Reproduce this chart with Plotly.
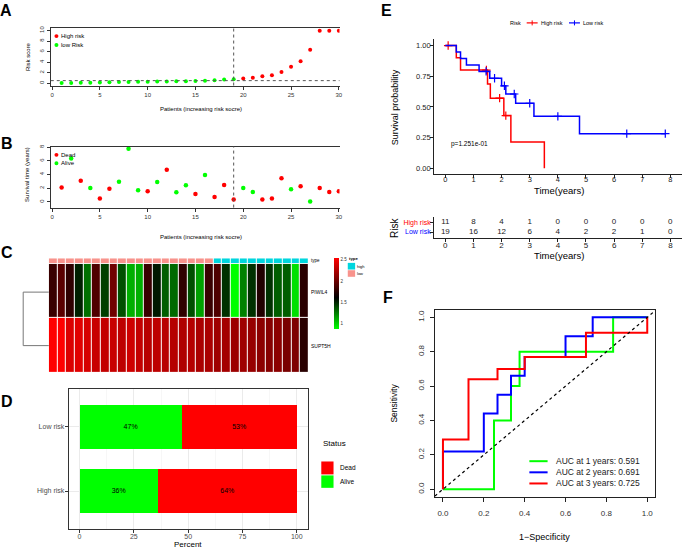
import plotly.graph_objects as go

W, H = 685, 549
def fx(p): return p / W
def fy(p): return 1 - p / H

FONT = "Liberation Sans, Arial, Helvetica, sans-serif"
RED, GREEN, BLUE = "#FF0000", "#00FF00", "#0000FF"

# ---------------- data ----------------
patients = list(range(1, 31))
n_low = 19
risk_score = [0.05, 0.06, 0.08, 0.10, 0.13, 0.18, 0.22, 0.25, 0.28, 0.30,
              0.32, 0.35, 0.38, 0.40, 0.45, 0.48, 0.57, 0.70, 0.75,
              0.92, 1.07, 1.32, 1.50, 2.14, 3.14, 4.15, 6.35, 9.94, 9.94, 9.94]
risk_cutoff = 0.5
surv_time = [2.09, 6.36, 3.10, 2.04, 0.49, 1.94, 2.96, 7.77, 1.70, 1.55,
             2.90, 4.70, 1.40, 2.43, 1.17, 3.93, 0.73, 2.48, 0.34,
             2.04, 1.46, 0.34, 0.49, 3.45, 1.84, 2.28, 0.05, 2.04, 1.46, 1.55]
dead = [1, 0, 1, 0, 1, 1, 0, 0, 0, 1, 0, 1, 0, 0, 1, 0, 1, 1, 1,
        0, 0, 1, 1, 1, 0, 1, 0, 1, 1, 1]

genes = ["PIWIL4", "SUPT5H"]
piwil4 = [1.81, 1.93, 1.77, 1.51, 1.28, 1.89, 1.42, 2.01, 1.37, 1.10,
          1.10, 1.81, 1.53, 1.33, 1.30, 1.77, 1.37, 1.14, 1.81, 1.89,
          1.46, 0.87, 1.23, 1.46, 1.72, 1.46, 1.33, 1.33, 0.96, 1.75]
supt5h = [2.53, 2.53, 2.40, 2.42, 2.38, 2.33, 2.31, 2.33, 2.29, 2.35,
          2.31, 2.27, 2.29, 2.27, 2.26, 2.24, 2.26, 2.22, 2.22, 2.18,
          2.20, 2.17, 2.18, 2.15, 2.11, 2.09, 2.11, 2.04, 2.06, 1.75]
expr_min, expr_max = 0.87, 2.53
type_labels = ["low"] * n_low + ["high"] * (30 - n_low)

status_groups = ["High risk", "Low risk"]
alive_pct = [36, 47]
dead_pct = [64, 53]

km_high_t = [0, 0.39, 0.54, 1.50, 1.60, 2.08, 2.33, 3.52]
km_high_s = [1.0, 0.900, 0.800, 0.686, 0.571, 0.429, 0.214, 0.0]
cens_high_t = [0.10, 1.46, 1.93, 2.15]
cens_high_s = [1.0, 0.800, 0.571, 0.429]
km_low_t = [0, 0.39, 0.54, 0.75, 1.20, 1.58, 2.00, 2.15, 2.50, 3.15, 4.77, 7.82]
km_low_s = [1.0, 0.947, 0.895, 0.842, 0.789, 0.733, 0.672, 0.605, 0.529, 0.423, 0.282, 0.282]
cens_low_t = [1.45, 1.75, 2.10, 2.45, 3.00, 4.00, 6.45, 7.82]
cens_low_s = [0.789, 0.733, 0.672, 0.605, 0.529, 0.423, 0.282, 0.282]
p_value_text = "p=1.251e-01"

table_times = [0, 1, 2, 3, 4, 5, 6, 7, 8]
at_risk_high = [11, 8, 4, 1, 0, 0, 0, 0, 0]
at_risk_low = [19, 16, 12, 6, 4, 2, 2, 1, 0]

roc1_fpr = [0, 0.25, 0.25, 0.333, 0.333, 0.375, 0.375, 0.833, 0.833, 1.0]
roc1_tpr = [0, 0, 0.4, 0.4, 0.6, 0.6, 0.8, 0.8, 1.0, 1.0]
roc2_fpr = [0, 0, 0.2, 0.2, 0.267, 0.267, 0.333, 0.333, 0.4, 0.4, 0.6, 0.6, 0.733, 0.733, 1.0]
roc2_tpr = [0, 0.22, 0.22, 0.44, 0.44, 0.55, 0.55, 0.66, 0.66, 0.77, 0.77, 0.89, 0.89, 1.0, 1.0]
roc3_fpr = [0, 0, 0.125, 0.125, 0.267, 0.267, 0.4, 0.4, 0.7, 0.7, 1.0, 1.0]
roc3_tpr = [0, 0.29, 0.29, 0.64, 0.64, 0.70, 0.70, 0.77, 0.77, 0.91, 0.91, 1.0]
auc_labels = ["AUC at 1 years: 0.591", "AUC at 2 years: 0.691", "AUC at 3 years: 0.725"]
roc_colors = [GREEN, BLUE, RED]

# ---------------- helpers ----------------
annotations, shapes = [], []

def txt(x, y, s, size, color="black", xanchor="center", yanchor="middle", angle=0):
    annotations.append(dict(x=fx(x), y=fy(y), xref="paper", yref="paper", text=s,
                            showarrow=False, textangle=angle, xanchor=xanchor, yanchor=yanchor,
                            borderpad=0, font=dict(size=size, color=color, family=FONT)))

def pline(x0, y0, x1, y1, color="black", width=1, dash="solid"):
    shapes.append(dict(type="line", xref="paper", yref="paper", x0=fx(x0), y0=fy(y0),
                       x1=fx(x1), y1=fy(y1), line=dict(color=color, width=width, dash=dash)))

def prect(x0, y0, x1, y1, color):
    shapes.append(dict(type="rect", xref="paper", yref="paper", x0=fx(x0), y0=fy(y0),
                       x1=fx(x1), y1=fy(y1), fillcolor=color, line=dict(width=0)))

def pdot(x, y, r, color):
    shapes.append(dict(type="circle", xref="paper", yref="paper", x0=fx(x - r), y0=fy(y - r),
                       x1=fx(x + r), y1=fy(y + r), fillcolor=color, line=dict(width=0)))

fig = go.Figure()

# ---------------- A: risk score ----------------
fig.add_trace(go.Scatter(x=patients[:n_low], y=risk_score[:n_low], mode="markers",
                         marker=dict(color=GREEN, size=4), xaxis="x", yaxis="y"))
fig.add_trace(go.Scatter(x=patients[n_low:], y=risk_score[n_low:], mode="markers",
                         marker=dict(color=RED, size=4), xaxis="x", yaxis="y"))
shapes.append(dict(type="line", xref="x", yref="y domain", x0=n_low, x1=n_low, y0=0, y1=1,
                   line=dict(color="#555", width=1, dash="dot")))
shapes.append(dict(type="line", xref="x domain", yref="y", x0=0, x1=1, y0=risk_cutoff, y1=risk_cutoff,
                   line=dict(color="#555", width=1, dash="dot")))
pdot(56.7, 33.3, 2, RED); txt(60.5, 33.3, "High risk", 6, xanchor="left")
pdot(56.7, 42.3, 2, GREEN); txt(60.5, 42.3, "low Risk", 6, xanchor="left")
txt(201.7, 107, "Patients (increasing risk socre)", 6)
txt(27.5, 54, "Risk score", 6, angle=-90)

# ---------------- B: survival time ----------------
cols_b = [RED if d else GREEN for d in dead]
fig.add_trace(go.Scatter(x=patients, y=surv_time, mode="markers",
                         marker=dict(color=cols_b, size=4.5), xaxis="x2", yaxis="y2"))
shapes.append(dict(type="line", xref="x2", yref="y2 domain", x0=n_low, x1=n_low, y0=0, y1=1,
                   line=dict(color="#555", width=1, dash="dot")))
pdot(56.7, 152.7, 2, RED); txt(60.5, 152.7, "Dead", 6, xanchor="left")
pdot(56.7, 161.2, 2, GREEN); txt(60.5, 161.2, "Alive", 6, xanchor="left")
txt(201.7, 235, "Patients (increasing risk socre)", 6)
txt(27, 172, "Survival time (years)", 6, angle=-90)

# ---------------- C: heatmap ----------------
type_code = [1 if t == "high" else 0 for t in type_labels]
fig.add_trace(go.Heatmap(z=[type_code], x=patients, y=[0], xgap=1, zmin=0, zmax=1,
                         colorscale=[[0, "#F8938C"], [0.5, "#F8938C"], [0.5, "#00D6DE"], [1, "#00D6DE"]],
                         showscale=False, xaxis="x3", yaxis="y3", hoverinfo="skip"))
fig.add_trace(go.Heatmap(z=[piwil4, supt5h], x=patients, y=[0, 1], xgap=1, ygap=1,
                         zmin=expr_min, zmax=expr_max,
                         colorscale=[[0, "#00FF00"], [0.44, "#000000"], [1, "#FF0000"]],
                         colorbar=dict(x=fx(335), xanchor="left", y=fy(256.7), yanchor="top",
                                       len=70.6, lenmode="pixels", thickness=5,
                                       thicknessmode="pixels", outlinewidth=0,
                                       tickvals=[1, 1.5, 2, 2.5], ticktext=["1", "1.5", "2", "2.5"],
                                       ticks="", tickfont=dict(size=4.5, color="#333"), xpad=0, ypad=0),
                         xaxis="x4", yaxis="y4", hoverinfo="skip"))
txt(311, 259.2, "type", 4.5, xanchor="left")
txt(311.5, 290.7, genes[0], 5, xanchor="left")
txt(311.5, 345, genes[1], 5, xanchor="left")
# dendrogram
pline(23.3, 290.7, 23.3, 344.5, "#777", 1)
pline(23.3, 290.7, 49, 290.7, "#777", 1)
pline(23.3, 344.5, 49, 344.5, "#777", 1)
# type legend
txt(349.5, 257.3, "<b>type</b>", 4.3, xanchor="left")
prect(349.3, 261.3, 356.7, 268, "#00D6DE"); txt(358, 264.7, "high", 4, xanchor="left")
prect(349.3, 268.7, 356.7, 275.3, "#F8938C"); txt(358, 272, "low", 4, xanchor="left")

# ---------------- D: stacked percent bars ----------------
fig.add_trace(go.Bar(y=status_groups, x=alive_pct, orientation="h", marker=dict(color=GREEN, line=dict(width=0)),
                     width=0.7, text=[f"{v}%" for v in alive_pct], textposition="inside",
                     insidetextanchor="middle", textfont=dict(size=7, color="black"),
                     xaxis="x5", yaxis="y5"))
fig.add_trace(go.Bar(y=status_groups, x=dead_pct, orientation="h", marker=dict(color=RED, line=dict(width=0)),
                     width=0.7, text=[f"{v}%" for v in dead_pct], textposition="inside",
                     insidetextanchor="middle", textfont=dict(size=7, color="black"),
                     xaxis="x5", yaxis="y5"))
txt(188.5, 544.8, "Percent", 8)
txt(323, 443, "Status", 8, xanchor="left")
prect(322.7, 461, 335, 474, RED); txt(340, 467.5, "Dead", 6.5, xanchor="left")
prect(322.7, 475, 335, 487.5, GREEN); txt(340, 481, "Alive", 6.5, xanchor="left")

# ---------------- E: Kaplan-Meier ----------------
fig.add_trace(go.Scatter(x=km_high_t, y=km_high_s, mode="lines", line=dict(color=RED, width=1.5, shape="hv"),
                         xaxis="x6", yaxis="y6"))
fig.add_trace(go.Scatter(x=cens_high_t, y=cens_high_s, mode="markers",
                         marker=dict(symbol="cross-thin", size=6, line=dict(color=RED, width=1.2)),
                         xaxis="x6", yaxis="y6"))
fig.add_trace(go.Scatter(x=km_low_t, y=km_low_s, mode="lines", line=dict(color=BLUE, width=1.5, shape="hv"),
                         xaxis="x6", yaxis="y6"))
fig.add_trace(go.Scatter(x=cens_low_t, y=cens_low_s, mode="markers",
                         marker=dict(symbol="cross-thin", size=6, line=dict(color=BLUE, width=1.2)),
                         xaxis="x6", yaxis="y6"))
txt(452, 141.7, p_value_text, 6.5, xanchor="left")
txt(397, 104.5, "Survival probability", 9, angle=-90)
txt(561, 188.5, "Time(years)", 9.5)
txt(518, 20, "Risk", 5.5)
pline(529, 20, 540, 20, RED, 1.2); pline(534.5, 17.5, 534.5, 22.5, RED, 1)
txt(542.5, 20, "High risk", 5.5, xanchor="left")
pline(571.5, 20, 582.5, 20, BLUE, 1.2); pline(577, 17.5, 577, 22.5, BLUE, 1)
txt(585, 20, "Low risk", 5.5, xanchor="left")

# risk table
fig.add_trace(go.Scatter(x=table_times + table_times, y=[2] * len(table_times) + [1] * len(table_times),
                         mode="text", text=[str(v) for v in at_risk_high + at_risk_low],
                         textfont=dict(size=8, color="#222", family=FONT), xaxis="x7", yaxis="y7"))
txt(396, 226, "Risk", 10, angle=-90)
txt(561, 253.8, "Time(years)", 9.5)

# ---------------- F: ROC ----------------
shapes.append(dict(type="line", xref="x8", yref="y8", x0=-0.04, y0=-0.04, x1=1.04, y1=1.04,
                   line=dict(color="black", width=1.2, dash="dot")))
for fpr, tpr, c in [(roc1_fpr, roc1_tpr, GREEN), (roc2_fpr, roc2_tpr, BLUE), (roc3_fpr, roc3_tpr, RED)]:
    fig.add_trace(go.Scatter(x=fpr, y=tpr, mode="lines", line=dict(color=c, width=2),
                             xaxis="x8", yaxis="y8"))
for i, (lab, c) in enumerate(zip(auc_labels, roc_colors)):
    yy = 460.7 + i * 11.2
    pline(531.7, yy, 550, yy, c, 2)
    txt(557, yy, lab, 8.5, color="#222", xanchor="left")
txt(396, 402.5, "Sensitivity", 8.5, angle=-90)
txt(547, 536.7, "1\u2212Specificity", 9)

# ---------------- panel letters ----------------
for L, x, y in [("A", 6, 8), ("B", 7, 141.5), ("C", 7, 250.5), ("D", 7, 401), ("E", 388, 8), ("F", 390, 296.5)]:
    txt(x, y, f"<b>{L}</b>", 16)

# ---------------- axes ----------------
base_tick = dict(showgrid=False, zeroline=False, showline=True, ticks="outside")
sm = dict(size=6, color="#333", family=FONT)

layout_axes = dict(
    xaxis=dict(domain=[fx(51), fx(341)], range=[-0.135, 30.07], anchor="y", mirror=True,
               tickvals=[0, 5, 10, 15, 20, 25, 30], ticklen=3, linecolor="#333", tickcolor="#333",
               tickfont=sm, **base_tick),
    yaxis=dict(domain=[fy(83), fy(25)], range=[-0.43, 10.5], anchor="x",
               tickvals=[0, 2, 4, 6, 8, 10], tickangle=-90, ticklen=3, linecolor="#333", tickcolor="#333",
               tickfont=sm, **base_tick),
    xaxis2=dict(domain=[fx(51), fx(341)], range=[-0.135, 30.07], anchor="y2", mirror=True,
                tickvals=[0, 5, 10, 15, 20, 25, 30], ticklen=3, linecolor="#333", tickcolor="#333",
                tickfont=sm, **base_tick),
    yaxis2=dict(domain=[fy(205.7), fy(144.3)], range=[-0.83, 8.1], anchor="x2",
                tickvals=[0, 2, 4, 6, 8], tickangle=-90, ticklen=3, linecolor="#333", tickcolor="#333",
                tickfont=sm, **base_tick),
    xaxis3=dict(domain=[fx(49), fx(310)], range=[0.5, 30.5], anchor="y3", visible=False),
    yaxis3=dict(domain=[fy(261.6), fy(256.7)], range=[-0.5, 0.5], anchor="x3", visible=False),
    xaxis4=dict(domain=[fx(49), fx(310)], range=[0.5, 30.5], anchor="y4", visible=False),
    yaxis4=dict(domain=[fy(371.7), fy(262.3)], range=[1.5, -0.5], anchor="x4", visible=False),
    xaxis5=dict(domain=[fx(69), fx(309)], range=[-5, 105], anchor="y5", mirror=True,
                tickvals=[0, 25, 50, 75, 100], showgrid=True, gridcolor="#EBEBEB", gridwidth=1,
                minor=dict(tickvals=[12.5, 37.5, 62.5, 87.5], showgrid=True, gridcolor="#F2F2F2", gridwidth=0.6),
                zeroline=False, showline=True, ticks="outside", ticklen=3, linecolor="#333", tickcolor="#333",
                linewidth=1, ticklabelstandoff=-3, tickfont=dict(size=7, color="#4D4D4D", family=FONT)),
    yaxis5=dict(domain=[fy(529.3), fy(387.7)], type="category", categoryorder="array",
                categoryarray=status_groups, range=[-0.6, 1.6], anchor="x5", mirror=True,
                showgrid=True, gridcolor="#EBEBEB", gridwidth=1, zeroline=False, showline=True,
                ticks="outside", ticklen=3, linecolor="#333", tickcolor="#333", linewidth=1,
                ticklabelstandoff=-1, tickfont=dict(size=7, color="#4D4D4D", family=FONT)),
    xaxis6=dict(domain=[fx(436), fx(684.6)], range=[-0.4, 8.4], anchor="y6",
                tickvals=table_times, ticklen=3, linecolor="#222", tickcolor="#222",
                ticklabelstandoff=-5,
                tickfont=dict(size=7.5, color="#222", family=FONT), **base_tick),
    yaxis6=dict(domain=[fy(172.3), fy(36.6)], range=[-0.05, 1.05], anchor="x6",
                tickvals=[0, 0.25, 0.5, 0.75, 1], ticktext=["0.00", "0.25", "0.50", "0.75", "1.00"],
                ticklen=3, linecolor="#222", tickcolor="#222", ticklabelstandoff=-2,
                tickfont=dict(size=7.5, color="#222", family=FONT), **base_tick),
    xaxis7=dict(domain=[fx(436), fx(684.6)], range=[-0.4, 8.4], anchor="y7",
                tickvals=table_times, ticklen=3, linecolor="#222", tickcolor="#222",
                ticklabelstandoff=-4,
                tickfont=dict(size=8, color="#222", family=FONT), **base_tick),
    yaxis7=dict(domain=[fy(236.7), fy(215)], range=[0.33, 2.59], anchor="x7",
                tickvals=[2, 1],
                ticktext=['<span style="color:#FF0000">High risk</span>',
                          '<span style="color:#0000FF">Low risk</span>'],
                ticklen=3, linecolor="#222", tickcolor="#222", ticklabelstandoff=-2,
                tickfont=dict(size=7, family=FONT), **base_tick),
    xaxis8=dict(domain=[fx(436.7), fx(658.3)], range=[-0.04, 1.04], anchor="y8", mirror=True,
                tickvals=[0, 0.2, 0.4, 0.6, 0.8, 1.0], tickformat=".1f", ticklen=4,
                linecolor="#222", tickcolor="#222", ticklabelstandoff=4,
                tickfont=dict(size=8, color="#333", family=FONT), **base_tick),
    yaxis8=dict(domain=[fy(496.7), fy(308.3)], range=[-0.045, 1.045], anchor="x8", mirror=True,
                tickvals=[0, 0.2, 0.4, 0.6, 0.8, 1.0], tickformat=".1f", ticklen=4, tickangle=-90,
                linecolor="#222", tickcolor="#222", ticklabelstandoff=3,
                tickfont=dict(size=8, color="#333", family=FONT), **base_tick),
)

fig.update_layout(
    width=W, height=H, autosize=False,
    margin=dict(l=0, r=0, t=0, b=0, pad=0),
    paper_bgcolor="white", plot_bgcolor="white",
    font=dict(family=FONT, color="black"),
    showlegend=False, barmode="stack", hovermode=False,
    annotations=annotations, shapes=shapes,
    **layout_axes,
)

fig.write_html("out.html", config={"displayModeBar": False, "staticPlot": True},
               post_script="document.body.style.margin='0';document.body.style.overflow='hidden';")
